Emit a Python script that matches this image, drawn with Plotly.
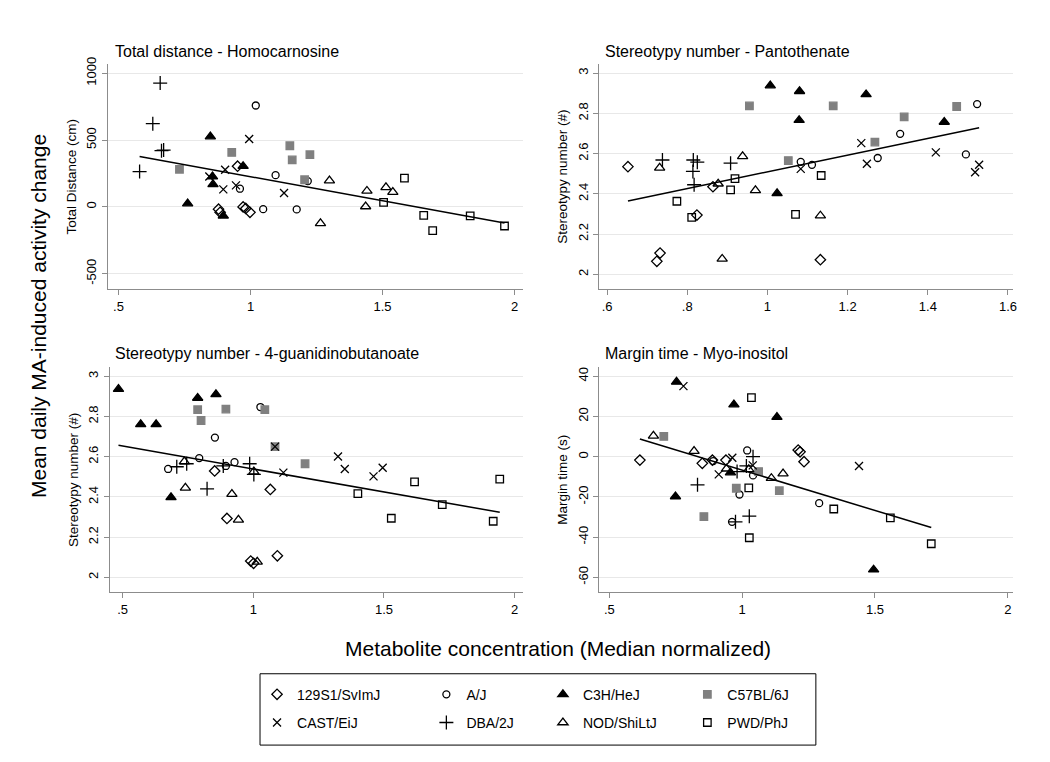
import numpy as np
import plotly.graph_objects as go

# The page body adds an 8 px margin, so the figure is drawn 16 px smaller
# and all layout positions (given in page pixels) are shifted by that margin.
PAGE_W, PAGE_H, OFF = 1050, 762, 8
FW, FH = PAGE_W - 2 * OFF, PAGE_H - 2 * OFF

strains = ["129S1/SvImJ", "A/J", "C3H/HeJ", "C57BL/6J",
           "CAST/EiJ", "DBA/2J", "NOD/ShiLtJ", "PWD/PhJ"]

# ---------------- Panel 1: Total distance - Homocarnosine ----------------
td_x = {
    "129S1/SvImJ": [0.951, 0.879, 0.885, 0.972, 0.982, 0.998],
    "A/J": [1.217, 1.020, 1.095, 1.048, 1.175, 0.960],
    "C3H/HeJ": [0.848, 0.972, 0.856, 0.858, 0.762, 0.897],
    "C57BL/6J": [0.929, 0.731, 1.149, 1.158, 1.225, 1.205],
    "CAST/EiJ": [0.995, 1.127, 0.904, 0.844, 0.897, 0.945],
    "DBA/2J": [0.658, 0.630, 0.671, 0.663, 0.580],
    "NOD/ShiLtJ": [1.265, 1.299, 1.441, 1.436, 1.513, 1.539],
    "PWD/PhJ": [1.583, 1.504, 1.656, 1.690, 1.832, 1.962],
}
td_y = {
    "129S1/SvImJ": [304, -17, -41, 0, -12, -41],
    "A/J": [193, 758, 237, -17, -19, 136],
    "C3H/HeJ": [526, 304, 227, 168, 25, -67],
    "C57BL/6J": [407, 281, 457, 351, 390, 203],
    "CAST/EiJ": [507, 104, 277, 227, 131, 161],
    "DBA/2J": [926, 622, 425, 420, 264],
    "NOD/ShiLtJ": [-123, 196, 119, 3, 146, 111],
    "PWD/PhJ": [215, 33, -64, -178, -67, -143],
}

# ---------------- Panel 2: Stereotypy number - Pantothenate ----------------
sp_x = {
    "129S1/SvImJ": [0.652, 0.864, 0.824, 0.732, 0.724, 1.132],
    "A/J": [1.083, 1.523, 1.331, 1.495, 1.111, 1.275],
    "C3H/HeJ": [1.007, 1.080, 1.079, 1.246, 1.441, 1.024],
    "C57BL/6J": [0.955, 1.164, 1.472, 1.341, 1.268, 1.052],
    "CAST/EiJ": [1.083, 1.234, 1.420, 1.248, 1.528, 1.518],
    "DBA/2J": [0.738, 0.815, 0.825, 0.814, 0.817, 0.908],
    "NOD/ShiLtJ": [0.731, 0.938, 0.877, 0.970, 0.887, 1.132],
    "PWD/PhJ": [0.919, 0.908, 0.774, 0.811, 1.070, 1.134],
}
sp_y = {
    "129S1/SvImJ": [2.535, 2.435, 2.294, 2.105, 2.064, 2.072],
    "A/J": [2.559, 2.846, 2.698, 2.596, 2.544, 2.578],
    "C3H/HeJ": [2.938, 2.910, 2.766, 2.894, 2.757, 2.402],
    "C57BL/6J": [2.837, 2.837, 2.834, 2.782, 2.657, 2.565],
    "CAST/EiJ": [2.524, 2.652, 2.606, 2.549, 2.544, 2.507],
    "DBA/2J": [2.568, 2.568, 2.557, 2.511, 2.445, 2.552],
    "NOD/ShiLtJ": [2.529, 2.586, 2.450, 2.417, 2.076, 2.291],
    "PWD/PhJ": [2.475, 2.419, 2.363, 2.283, 2.298, 2.491],
}

# ---------------- Panel 3: Stereotypy number - 4-guanidinobutanoate ----------------
sg_x = {
    "129S1/SvImJ": [0.852, 1.065, 0.899, 1.092, 0.990, 1.001],
    "A/J": [1.027, 0.853, 0.793, 0.674, 0.895, 0.928],
    "C3H/HeJ": [0.484, 0.787, 0.857, 0.569, 0.628, 0.685],
    "C57BL/6J": [0.787, 0.895, 1.044, 0.800, 1.083, 1.198],
    "CAST/EiJ": [1.083, 1.115, 1.324, 1.350, 1.460, 1.495],
    "DBA/2J": [0.707, 0.745, 0.885, 0.986, 1.002, 0.823],
    "NOD/ShiLtJ": [0.736, 1.002, 0.740, 0.918, 0.943, 1.015],
    "PWD/PhJ": [1.617, 1.943, 1.400, 1.723, 1.528, 1.918],
}
sg_y = {
    "129S1/SvImJ": [2.529, 2.437, 2.293, 2.107, 2.081, 2.070],
    "A/J": [2.847, 2.695, 2.593, 2.539, 2.554, 2.573],
    "C3H/HeJ": [2.936, 2.892, 2.910, 2.761, 2.761, 2.398],
    "C57BL/6J": [2.834, 2.837, 2.834, 2.780, 2.650, 2.565],
    "CAST/EiJ": [2.650, 2.521, 2.601, 2.539, 2.502, 2.545],
    "DBA/2J": [2.550, 2.565, 2.554, 2.565, 2.512, 2.440],
    "NOD/ShiLtJ": [2.576, 2.526, 2.445, 2.414, 2.286, 2.077],
    "PWD/PhJ": [2.475, 2.488, 2.416, 2.362, 2.294, 2.279],
}

# ---------------- Panel 4: Margin time - Myo-inositol ----------------
mt_x = {
    "129S1/SvImJ": [0.615, 0.850, 0.888, 0.939, 1.211, 1.218, 1.233],
    "A/J": [0.891, 1.019, 1.041, 0.990, 0.962, 1.290],
    "C3H/HeJ": [0.753, 0.969, 1.131, 0.956, 0.749, 1.495],
    "C57BL/6J": [0.705, 1.062, 1.140, 0.978, 0.856],
    "CAST/EiJ": [0.779, 0.963, 0.912, 1.040, 1.440],
    "DBA/2J": [0.981, 1.041, 1.016, 0.832, 0.975, 1.027],
    "NOD/ShiLtJ": [0.666, 0.819, 0.941, 1.025, 1.110, 1.154],
    "PWD/PhJ": [1.035, 1.025, 1.027, 1.345, 1.558, 1.712],
}
mt_y = {
    "129S1/SvImJ": [-1.7, -3.3, -1.7, -1.7, 3.3, 2.4, -2.5],
    "A/J": [-2.2, 3.1, -9.3, -18.8, -32.4, -23.1],
    "C3H/HeJ": [37.2, 25.9, 19.7, -7.9, -19.8, -56.2],
    "C57BL/6J": [10.1, -7.4, -16.9, -15.7, -29.8],
    "CAST/EiJ": [35.1, -0.5, -8.8, -4.3, -4.6],
    "DBA/2J": [-7.4, 0.0, -4.6, -14.0, -32.4, -29.6],
    "NOD/ShiLtJ": [10.4, 2.8, -6.0, -6.3, -10.7, -8.4],
    "PWD/PhJ": [29.4, -15.5, -40.3, -26.0, -30.4, -43.3],
}

# linear fit lines as drawn in the reference (slope, intercept)
fit_slope = [-360.1, 0.4155, -0.2281, -40.16]
fit_intercept = [585.8, 2.0937, 2.7669, 33.51]

panel_titles = ["Total distance - Homocarnosine",
                "Stereotypy number - Pantothenate",
                "Stereotypy number - 4-guanidinobutanoate",
                "Margin time - Myo-inositol"]
y_titles = ["Total Distance (cm)", "Stereotypy number (#)",
            "Stereotypy number (#)", "Margin time (s)"]

x_ticks_a = [0.5, 1, 1.5, 2]
x_ticklabels_a = [".5", "1", "1.5", "2"]
x_ticks_b = [0.6, 0.8, 1, 1.2, 1.4, 1.6]
x_ticklabels_b = [".6", ".8", "1", "1.2", "1.4", "1.6"]
y_ticks_td = [-500, 0, 500, 1000]
y_ticks_st = [2, 2.2, 2.4, 2.6, 2.8, 3]
y_ticklabels_st = ["2", "2.2", "2.4", "2.6", "2.8", "3"]
y_ticks_mt = [-60, -40, -20, 0, 20, 40]

GRAY = "#808080"
styles = {
    "129S1/SvImJ": dict(symbol="diamond-open", size=8, color="black"),
    "A/J": dict(symbol="circle-open", size=7, color="black"),
    "C3H/HeJ": dict(symbol="triangle-up", size=9, color="black"),
    "C57BL/6J": dict(symbol="square", size=7.5, color=GRAY),
    "CAST/EiJ": dict(symbol="x-thin-open", size=8, color="black"),
    "DBA/2J": dict(symbol="cross-thin-open", size=10, color="black"),
    "NOD/ShiLtJ": dict(symbol="triangle-up-open", size=9, color="black"),
    "PWD/PhJ": dict(symbol="square-open", size=7.5, color="black"),
}
legend_of = {"129S1/SvImJ": "legend", "CAST/EiJ": "legend",
             "A/J": "legend2", "DBA/2J": "legend2",
             "C3H/HeJ": "legend3", "NOD/ShiLtJ": "legend3",
             "C57BL/6J": "legend4", "PWD/PhJ": "legend4"}


def px_x(p):
    return (p - OFF) / FW


def px_y(p):
    return 1 - (p - OFF) / FH


panels = [
    dict(x=td_x, y=td_y, xd=(108, 525), yd=(57.7, 284.7), xr=(0.4589, 2.032), yr=(-614.8, 1066.6),
         xt=x_ticks_a, xtl=x_ticklabels_a, yt=y_ticks_td, ytl=[str(v) for v in y_ticks_td]),
    dict(x=sp_x, y=sp_y, xd=(601, 1016.7), yd=(57.7, 284.7), xr=(0.579, 1.612), yr=(1.926, 3.0443),
         xt=x_ticks_b, xtl=x_ticklabels_b, yt=y_ticks_st, ytl=y_ticklabels_st),
    dict(x=sg_x, y=sg_y, xd=(110, 525), yd=(363.7, 590.7), xr=(0.45, 2.032), yr=(1.926, 3.0443),
         xt=x_ticks_a, xtl=x_ticklabels_a, yt=y_ticks_st, ytl=y_ticklabels_st),
    dict(x=mt_x, y=mt_y, xd=(601, 1016.7), yd=(363.7, 590.7), xr=(0.46, 2.019), yr=(-67.4, 44.43),
         xt=x_ticks_a, xtl=x_ticklabels_a, yt=y_ticks_mt, ytl=[str(v) for v in y_ticks_mt]),
]

fig = go.Figure()
layout = {}
FONT = "Liberation Sans, Arial, sans-serif"
AXC = "#8c8c8c"

for i, p in enumerate(panels):
    k = "" if i == 0 else str(i + 1)
    xa, ya = "x" + k, "y" + k
    for s in strains:
        st = styles[s]
        fig.add_trace(go.Scatter(
            x=p["x"][s], y=p["y"][s], mode="markers", name=s,
            xaxis=xa, yaxis=ya,
            marker=dict(symbol=st["symbol"], size=st["size"], color=st["color"],
                        line=dict(width=1.3, color=st["color"])),
            showlegend=(i == 0), legend=legend_of[s], legendgroup=s,
            hoverinfo="skip"))
    allx = np.concatenate([p["x"][s] for s in strains])
    lx = np.array([allx.min(), allx.max()])
    fig.add_trace(go.Scatter(x=lx, y=fit_intercept[i] + fit_slope[i] * lx, mode="lines",
                             xaxis=xa, yaxis=ya,
                             line=dict(color="black", width=1.5), showlegend=False,
                             hoverinfo="skip"))
    layout["xaxis" + k] = dict(
        domain=[px_x(p["xd"][0]), px_x(p["xd"][1])], range=list(p["xr"]), anchor=ya,
        tickvals=p["xt"], ticktext=p["xtl"], showgrid=False, zeroline=False,
        showline=True, linecolor=AXC, linewidth=1, ticks="outside", ticklen=5,
        tickcolor=AXC, tickfont=dict(size=13, color="black", family=FONT))
    layout["yaxis" + k] = dict(
        domain=[px_y(p["yd"][1]), px_y(p["yd"][0])], range=list(p["yr"]), anchor=xa,
        tickvals=p["yt"], ticktext=p["ytl"], showgrid=True, gridcolor="#e8e8e8",
        gridwidth=1, zeroline=False, showline=True, linecolor=AXC, linewidth=1,
        ticks="outside", ticklen=5, tickcolor=AXC, tickangle=-90,
        tickfont=dict(size=13, color="black", family=FONT),
        title=dict(text=y_titles[i], font=dict(size=13.5, color="black", family=FONT), standoff=4))

annotations = []
title_pos = [(113, 45), (605, 45), (113, 350), (605, 350)]
for t, (tx, ty) in zip(panel_titles, title_pos):
    annotations.append(dict(text=t, x=px_x(tx), y=px_y(ty), xref="paper", yref="paper",
                            xanchor="left", yanchor="middle", showarrow=False,
                            font=dict(size=16, color="black", family=FONT)))
annotations.append(dict(text="Mean daily MA-induced activity change", x=px_x(38), y=px_y(312),
                        xref="paper", yref="paper", textangle=-90, showarrow=False,
                        xanchor="center", yanchor="middle",
                        font=dict(size=21, color="black", family=FONT)))
annotations.append(dict(text="Metabolite concentration (Median normalized)", x=px_x(560), y=px_y(648),
                        xref="paper", yref="paper", showarrow=False,
                        xanchor="center", yanchor="middle",
                        font=dict(size=21, color="black", family=FONT)))

leg_common = dict(orientation="v", bgcolor="rgba(0,0,0,0)", borderwidth=0,
                  font=dict(size=14, color="black", family=FONT),
                  traceorder="grouped", tracegroupgap=7, yanchor="top",
                  itemclick=False, itemdoubleclick=False)
leg_x = [258, 428, 545, 690]
for j, name in enumerate(["legend", "legend2", "legend3", "legend4"]):
    layout[name] = dict(leg_common, x=px_x(leg_x[j]), xanchor="left", y=px_y(678))

shapes = [dict(type="rect", xref="paper", yref="paper",
               x0=px_x(261), x1=px_x(819), y0=px_y(745), y1=px_y(673),
               line=dict(color="black", width=1), fillcolor="rgba(0,0,0,0)")]

fig.update_layout(width=FW, height=FH, margin=dict(l=0, r=0, t=0, b=0),
                  paper_bgcolor="white", plot_bgcolor="white",
                  annotations=annotations, shapes=shapes,
                  font=dict(family=FONT, color="black"), **layout)

fig.write_html("out.html")
